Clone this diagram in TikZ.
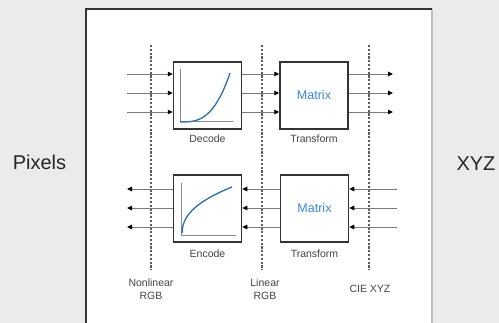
\documentclass[tikz,border=0pt]{standalone}
\usepackage{fontspec}
\setmainfont{Liberation Sans}
\usetikzlibrary{arrows.meta}
\definecolor{bg}{HTML}{EBEBEB}
\definecolor{boxline}{HTML}{333333}
\definecolor{axisgray}{HTML}{8A8A8A}
\definecolor{curveblue}{HTML}{2F6EA8}
\definecolor{matblue}{HTML}{3A88D2}
\definecolor{arrgray}{HTML}{7A7A7A}
\definecolor{labgray}{HTML}{444444}
\begin{document}
\begin{tikzpicture}[x=1pt,y=-1pt,
  blockbox/.style={draw=boxline,line width=1.5pt,fill=white,minimum width=68pt,minimum height=67pt,inner sep=0pt},
  sig/.style={draw=arrgray,line width=0.9pt,-{Triangle[length=5pt,width=4.5pt,color=black]}},
  divider/.style={draw=boxline!80,line width=1.2pt,dash pattern=on 2.2pt off 1.6pt},
  lab/.style={font=\fontsize{10.5}{12}\selectfont,text=labgray,inner sep=0pt},
  biglab/.style={font=\fontsize{20}{24}\selectfont,text=black!85,inner sep=0pt},
  axis/.style={draw=axisgray,line width=1pt},
  curve/.style={draw=curveblue,line width=1.3pt}]
\useasboundingbox (0,0) rectangle (499,323);
\fill[bg] (0,0) rectangle (499,323);
% panel
\fill[white] (86,9) rectangle (432,323);
\draw[draw=black!25,line width=2pt] (432,9) -- (432,323);
\draw[draw=boxline,line width=1.5pt] (86,323) -- (86,9) -- (432,9);
% side labels
\node[biglab] (pix) at (39.5,162) {Pixels};
\node[biglab] (xyz) at (476,164) {XYZ};
% dividers
\coordinate (d1t) at (151,45); \coordinate (d1b) at (151,270);
\coordinate (d2t) at (262,45); \coordinate (d2b) at (262,270);
\coordinate (d3t) at (369,45); \coordinate (d3b) at (369,270);
\draw[divider] (d1t) -- (d1b);
\draw[divider] (d2t) -- (d2b);
\draw[divider] (d3t) -- (d3b);
% boxes
\node[blockbox] (dec) at (207.5,95.5) {};
\node[blockbox] (mt1) at (314,95.5) {\fontsize{12.5}{14}\selectfont\color{matblue}Matrix};
\node[blockbox] (enc) at (207.5,208.5) {};
\node[blockbox] (mt2) at (314.5,208.5) {\fontsize{12.5}{14}\selectfont\color{matblue}Matrix};
% graphs
\draw[axis] (180,69) -- (180,122) -- (233,122);
\draw[curve] plot[domain=0:1,samples=40,smooth] ({180+50*\x},{122-49*(\x)^3});
\draw[axis] (181,183) -- (181,236) -- (236,236);
\draw[curve] plot[domain=0.0005:1,samples=60,smooth] ({182+50*\x},{235-48*(\x)^0.42});
% labels
\node[lab] (ldec) at (207.5,138.5) {Decode};
\node[lab] (lt1) at (314,138.5) {Transform};
\node[lab] (lenc) at (207.5,253.5) {Encode};
\node[lab] (lt2) at (314.5,253.5) {Transform};
\node[lab,align=center] (nl) at (151,289.5) {Nonlinear\\[1pt]RGB};
\node[lab,align=center] (lin) at (265,289.5) {Linear\\[1pt]RGB};
\node[lab] (cie) at (370,289) {CIE XYZ};
% top row arrows
\foreach \y [count=\i] in {74,93,112}{
  \coordinate (ti\i) at (127,\y);
  \coordinate (to\i) at (393,\y);
  \draw[sig] (ti\i) -- (dec.west |- ti\i);
  \draw[sig] (dec.east |- ti\i) -- (mt1.west |- ti\i);
  \draw[sig] (mt1.east |- ti\i) -- (to\i);
}
% bottom row arrows
\foreach \y [count=\i] in {189,208,227}{
  \coordinate (bi\i) at (397,\y);
  \coordinate (bo\i) at (127,\y);
  \draw[sig] (bi\i) -- (mt2.east |- bi\i);
  \draw[sig] (mt2.west |- bi\i) -- (enc.east |- bi\i);
  \draw[sig] (enc.west |- bi\i) -- (bo\i);
}
\end{tikzpicture}
\end{document}
